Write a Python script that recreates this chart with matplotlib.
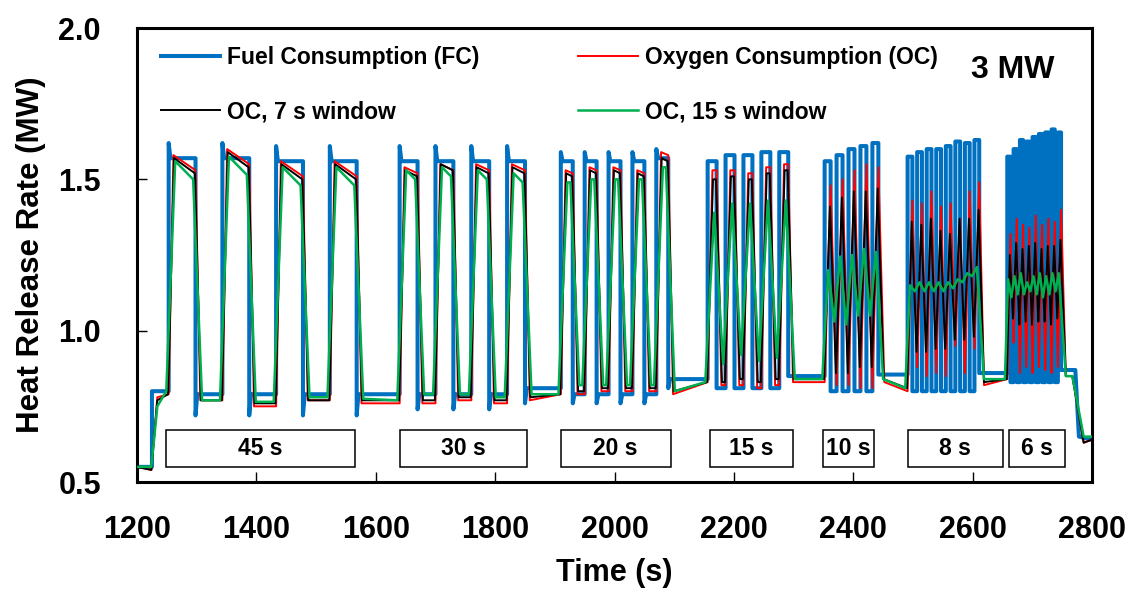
import matplotlib
matplotlib.use('Agg')
import matplotlib.pyplot as plt
from matplotlib.patches import Rectangle

plt.rcParams['font.family'] = ['Liberation Sans', 'DejaVu Sans']
plt.rcParams['font.weight'] = 'bold'

# test blocks (pulse half period label), first rise time, period, pulses
block_labels = ['45 s', '30 s', '20 s', '15 s', '10 s', '8 s', '6 s']
block_start = [1253, 1640, 1910, 2156, 2352, 2491, 2658]
block_period = [90, 60, 40, 30, 20, 16, 10.6]
block_count = [4, 4, 5, 5, 5, 8, 9]
box_left = [1249, 1641, 1910, 2160, 2350, 2491, 2661]
box_right = [1565, 1854, 2094, 2299, 2434, 2651, 2755]

# fuel consumption (MW)
fc_peak = [
    [1.57, 1.57, 1.56, 1.56],
    [1.56, 1.56, 1.56, 1.56],
    [1.56, 1.56, 1.56, 1.56, 1.57],
    [1.56, 1.58, 1.58, 1.59, 1.59],
    [1.56, 1.58, 1.60, 1.61, 1.62],
    [1.575, 1.59, 1.60, 1.60, 1.61, 1.625, 1.62, 1.63],
    [1.575, 1.60, 1.63, 1.625, 1.64, 1.65, 1.655, 1.665, 1.655],
]
fc_low = [0.79, 0.79, 0.79, 0.81, 0.80, 0.80, 0.83]
fc_gap = [0.79, 0.81, 0.84, 0.85, 0.855, 0.86, 0.87]
fc_overshoot = [0.05, 0.05, 0.03, 0.0, 0.0, 0.0, 0.0]
fc_undershoot = [0.07, 0.05, 0.03, 0.0, 0.0, 0.0, 0.0]
fc_pre_t = [1200, 1225, 1225]
fc_pre = [0.55, 0.55, 0.80]
fc_post_t = [2772, 2778, 2800]
fc_post = [0.87, 0.65, 0.64]

# oxygen consumption, raw
red_peak = [
    [1.58, 1.60, 1.56, 1.56],
    [1.54, 1.55, 1.55, 1.55],
    [1.53, 1.54, 1.54, 1.53, 1.59],
    [1.53, 1.53, 1.52, 1.54, 1.55],
    [1.48, 1.50, 1.53, 1.55, 1.54],
    [1.43, 1.42, 1.46, 1.41, 1.42, 1.37, 1.46, 1.49],
    [1.32, 1.37, 1.35, 1.34, 1.38, 1.35, 1.37, 1.36, 1.40],
]
red_low = [
    [0.79, 0.77, 0.75, 0.77],
    [0.76, 0.76, 0.77, 0.76],
    [0.79, 0.79, 0.80, 0.80, 0.80],
    [0.83, 0.82, 0.82, 0.81, 0.82],
    [0.83, 0.82, 0.82, 0.81, 0.81],
    [0.80, 0.88, 0.85, 0.86, 0.85, 0.95, 0.86, 0.94],
    [0.84, 0.96, 0.86, 0.88, 0.86, 0.88, 0.87, 0.86, 0.88],
]
red_droop = [0.05, 0.02, 0.01, 0, 0, 0, 0]
red_gap = [0.76, 0.77, 0.79, 0.83, 0.83, 0.82, 0.85]
red_pre = [0.55, 0.54, 0.78]
red_post = [0.85, 0.63, 0.64]

# oxygen consumption, 7 s window
black_peak = [
    [1.57, 1.59, 1.55, 1.55],
    [1.53, 1.55, 1.54, 1.54],
    [1.52, 1.53, 1.53, 1.52, 1.57],
    [1.50, 1.51, 1.50, 1.52, 1.53],
    [1.41, 1.44, 1.46, 1.46, 1.47],
    [1.36, 1.35, 1.37, 1.33, 1.32, 1.37, 1.37, 1.40],
    [1.25, 1.29, 1.27, 1.28, 1.29, 1.27, 1.28, 1.28, 1.30],
]
black_low = [
    [0.79, 0.77, 0.76, 0.77],
    [0.77, 0.77, 0.78, 0.77],
    [0.79, 0.80, 0.81, 0.81, 0.81],
    [0.83, 0.83, 0.84, 0.83, 0.84],
    [0.84, 0.86, 0.86, 0.88, 0.88],
    [0.81, 0.93, 0.93, 0.94, 0.94, 0.97, 0.97, 0.98],
    [0.84, 1.04, 1.02, 1.03, 1.02, 1.03, 1.03, 1.02, 1.04],
]
black_droop = [0.05, 0.02, 0.01, 0, 0, 0, 0]
black_gap = [0.77, 0.78, 0.80, 0.84, 0.84, 0.83, 0.85]
black_pre = [0.55, 0.54, 0.77]
black_post = [0.85, 0.63, 0.64]

# oxygen consumption, 15 s window
green_peak = [
    [1.56, 1.575, 1.54, 1.54],
    [1.53, 1.54, 1.53, 1.52],
    [1.49, 1.50, 1.50, 1.50, 1.54],
    [1.39, 1.42, 1.42, 1.43, 1.43],
    [1.20, 1.245, 1.25, 1.27, 1.26],
    [1.15, 1.16, 1.16, 1.16, 1.16, 1.17, 1.19, 1.21],
    [1.17, 1.18, 1.19, 1.16, 1.18, 1.19, 1.18, 1.19, 1.19],
]
green_low = [
    [0.80, 0.77, 0.765, 0.78],
    [0.77, 0.79, 0.79, 0.78],
    [0.79, 0.82, 0.82, 0.82, 0.82],
    [0.83, 0.89, 0.92, 0.90, 0.91],
    [0.84, 1.03, 1.02, 1.05, 1.05],
    [0.81, 1.13, 1.13, 1.13, 1.13, 1.14, 1.16, 1.18],
    [0.84, 1.11, 1.12, 1.12, 1.13, 1.12, 1.11, 1.12, 1.13],
]
green_droop = [0.06, 0.03, 0.0, 0, 0, 0, 0]
green_gap = [0.775, 0.79, 0.80, 0.84, 0.84, 0.84, 0.85]
green_pre = [0.55, 0.55, 0.75]
green_post = [0.85, 0.65, 0.65]

oc_pre_t = [1200, 1224, 1234]
oc_post_t = [2767, 2786, 2800]


def fc_curve():
    t, y = list(fc_pre_t), list(fc_pre)
    for b in range(len(block_start)):
        h = block_period[b] / 2
        n = block_count[b]
        for k in range(n):
            r = block_start[b] + block_period[b] * k
            f = r + h
            hi = fc_peak[b][k]
            t.append(r); y.append(y[-1])
            if fc_overshoot[b] > 0:
                t += [r, r + 3]; y += [hi + fc_overshoot[b], hi]
            else:
                t.append(r); y.append(hi)
            t.append(f); y.append(hi)
            lo = fc_low[b] if k < n - 1 else fc_gap[b]
            if fc_undershoot[b] > 0:
                t += [f, f + 3]; y += [lo - fc_undershoot[b], lo]
            else:
                t.append(f); y.append(lo)
    t += fc_post_t; y += fc_post
    return t, y


def oc_curve(peak, low, droop, gap, pre, post, shift, ramp, end_ramp):
    t, y = list(oc_pre_t), list(pre)
    for b in range(len(block_start)):
        h = block_period[b] / 2
        n = block_count[b]
        rr = h if h <= 10 else min(ramp, h)
        for k in range(n):
            r = block_start[b] + block_period[b] * k + shift
            f = r + h
            t += [r, r + rr, f]
            y += [low[b][k], peak[b][k], peak[b][k] - droop[b]]
            if k < n - 1:
                t.append(f + rr); y.append(low[b][k + 1])
            else:
                t.append(f + max(rr, end_ramp)); y.append(gap[b])
    t += oc_post_t; y += post
    return t, y


fig = plt.figure(figsize=(11.25, 5.95), dpi=100)
ax = fig.add_axes([0.1218, 0.1899, 0.8489, 0.7630])

t, y = fc_curve()
ax.plot(t, y, color='#0070C0', lw=2.9, label='Fuel Consumption (FC)', zorder=2)
t, y = oc_curve(red_peak, red_low, red_droop, red_gap, red_pre, red_post, 0, 8, 8)
ax.plot(t, y, color='#FF0000', lw=1.4, label='Oxygen Consumption (OC)', zorder=3)
t, y = oc_curve(black_peak, black_low, black_droop, black_gap, black_pre, black_post, -1, 10, 9)
ax.plot(t, y, color='black', lw=1.4, label='OC, 7 s window', zorder=4)
t, y = oc_curve(green_peak, green_low, green_droop, green_gap, green_pre, green_post, -4, 15, 12)
ax.plot(t, y, color='#00B050', lw=1.8, label='OC, 15 s window', zorder=5)

# duration boxes
for lab, x0, x1 in zip(block_labels, box_left, box_right):
    ax.add_patch(Rectangle((x0, 0.55), x1 - x0, 0.122, facecolor='white',
                           edgecolor='black', lw=1.1, zorder=6))
    ax.text((x0 + x1) / 2, 0.611, lab, ha='center', va='center',
            fontsize=16.5, fontweight='bold', zorder=7)

ax.set_xlim(1200, 2800)
ax.set_ylim(0.5, 2.0)
ax.set_xticks(range(1200, 2801, 200))
ax.set_yticks([0.5, 1.0, 1.5, 2.0])
ax.set_yticklabels(['0.5', '1.0', '1.5', '2.0'])
ax.tick_params(direction='in', length=7, width=1, labelsize=22)
ax.tick_params(axis='x', pad=24)
ax.tick_params(axis='y', pad=26)
for s in ax.spines.values():
    s.set_linewidth(2.2)

ax.set_xlabel('Time (s)', fontsize=22, fontweight='bold', labelpad=9)
ax.set_ylabel('Heat Release Rate (MW)', fontsize=22.5, fontweight='bold', labelpad=9)

ax.text(0.917, 0.907, '3 MW', transform=ax.transAxes, ha='center', va='center',
        fontsize=23, fontweight='bold')

h, l = ax.get_legend_handles_labels()
order = [0, 2, 1, 3]
ax.legend([h[i] for i in order], [l[i] for i in order], ncol=2, loc='upper left',
          bbox_to_anchor=(0.025, 0.96), frameon=False, fontsize=16.5,
          handlelength=2.6, handletextpad=0.3, columnspacing=4.3,
          labelspacing=1.35, borderpad=0, borderaxespad=0)

fig.savefig('out.png', dpi=100)
